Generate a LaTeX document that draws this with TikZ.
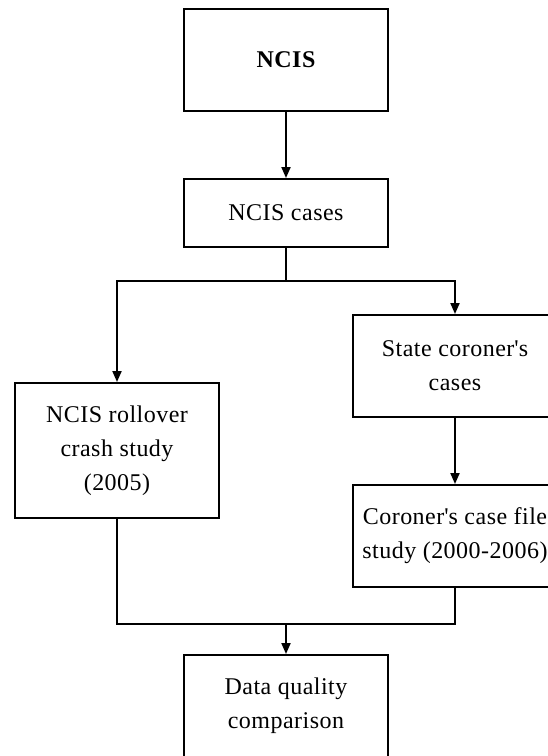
\documentclass[tikz,border=0pt]{standalone}
\usepackage{fontspec}
\setmainfont{Liberation Serif}[LetterSpace=2]
\usetikzlibrary{arrows.meta}
\begin{document}
\begin{tikzpicture}[x=1pt,y=-1pt,
  box/.style={draw, line width=2pt, minimum width=204pt, inner sep=0pt, align=center, font=\fontsize{24}{34}\selectfont},
  conn/.style={line width=2pt},
  arr/.style={conn, -{Triangle[length=11pt,width=9pt]}}]
\useasboundingbox (0,0) rectangle (547,756);
\node[box, minimum height=102pt, font=\fontsize{24}{34}\selectfont\bfseries] (ncis) at (286,60) {NCIS};
\node[box, minimum height=68pt] (cases) at (286,213) {NCIS cases};
\node[box, minimum height=135pt] (roll) at (117,450.5) {NCIS rollover\\crash study\\(2005)};
\node[box, minimum height=102pt] (state) at (455,366) {State coroner\textquotesingle s\\cases};
\node[box, minimum height=102pt] (file) at (455,536) {Coroner\textquotesingle s case file\\study (2000-2006)};
\node[box, minimum height=102pt] (data) at (286,706) {Data quality\\comparison};
\coordinate (split) at (286,281);
\coordinate (join) at (286,624);
\draw[arr] (ncis) -- (cases);
\draw[conn] (cases.south) -- (split);
\draw[arr] (split) -| (roll.north);
\draw[arr] (split) -| (state.north);
\draw[arr] (state) -- (file);
\draw[conn] (roll.south) |- (join);
\draw[conn] (file.south) |- (join);
\draw[arr] (join) -- (data);
\end{tikzpicture}
\end{document}
